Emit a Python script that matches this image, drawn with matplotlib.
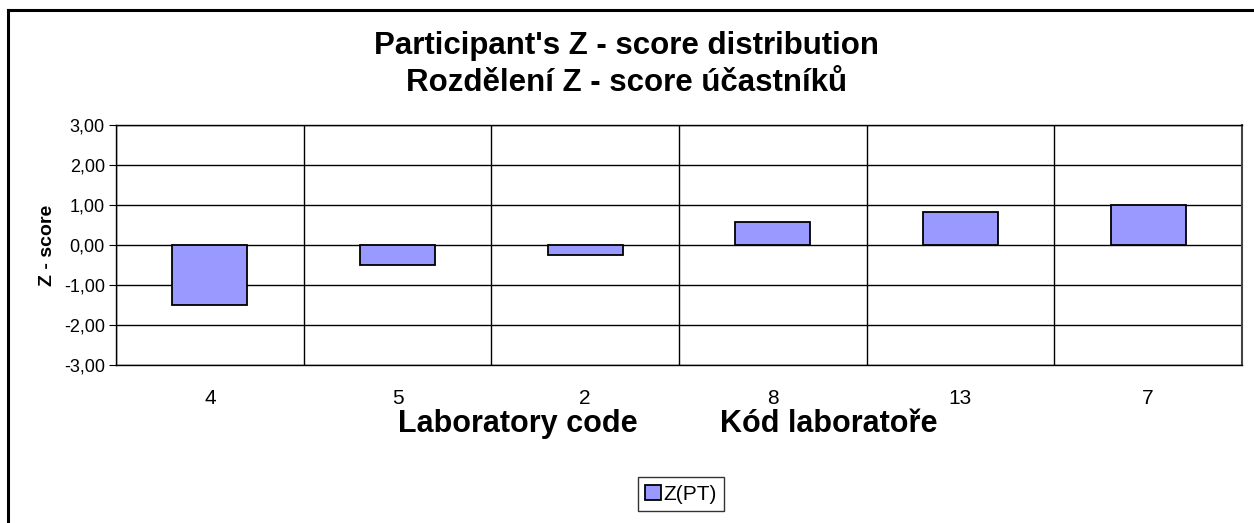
import numpy as np
import matplotlib.pyplot as plt
from matplotlib.lines import Line2D

labs = ["4", "5", "2", "8", "13", "7"]
zscores = [-1.50, -0.50, -0.25, 0.58, 0.82, 1.00]
yticks = [-3, -2, -1, 0, 1, 2, 3]
ytick_labels = ["-3,00", "-2,00", "-1,00", "0,00", "1,00", "2,00", "3,00"]

plt.rcParams['font.family'] = ['Liberation Sans', 'DejaVu Sans']

W, H = 1254, 523
fig = plt.figure(figsize=(W / 100, H / 100), dpi=100)

# outer chart frame (only top and left edges visible)
fig.add_artist(Line2D([8 / W, 8 / W], [0, 1 - 10 / H], color='black', lw=2.2, transform=fig.transFigure))
fig.add_artist(Line2D([8 / W, 1], [1 - 10 / H, 1 - 10 / H], color='black', lw=2.2, transform=fig.transFigure))

left, right, top, bottom = 116, 1242, 125, 365
ax = fig.add_axes([left / W, 1 - bottom / H, (right - left) / W, (bottom - top) / H])

x = np.arange(len(labs))
ax.bar(x, zscores, width=0.4, color='#9999ff', edgecolor='black', linewidth=1.3,
       zorder=3, label='Z(PT)')

ax.set_xlim(-0.5, len(labs) - 0.5)
ax.set_ylim(-3, 3)
ax.set_yticks(yticks)
ax.set_yticklabels(ytick_labels, fontsize=13)
ax.set_xticks(x)
ax.set_xticklabels(labs, fontsize=15)
ax.tick_params(axis='x', length=0, pad=17)
ax.tick_params(axis='y', length=5, direction='out', pad=3)

for yv in yticks:
    ax.axhline(yv, color='black', lw=1, zorder=1)
for xv in np.arange(-0.5, len(labs), 1.0):
    ax.axvline(xv, color='black', lw=1, zorder=1)
for s in ax.spines.values():
    s.set_linewidth(1)
ax.spines['right'].set_color('#444444')
ax.spines['right'].set_linewidth(1.5)

ax.set_ylabel('Z - score', fontsize=14, fontweight='bold', labelpad=6)

fig.text(0.5, 1 - 46 / H, "Participant's Z - score distribution", ha='center', va='center',
         fontsize=22.5, fontweight='bold')
fig.text(0.5, 1 - 83 / H, "Rozdělení Z - score účastníků", ha='center', va='center',
         fontsize=22.5, fontweight='bold')
fig.text(518 / W, 1 - 424 / H, "Laboratory code", ha='center', va='center',
         fontsize=22, fontweight='bold')
fig.text(829 / W, 1 - 424 / H, "Kód laboratoře", ha='center', va='center',
         fontsize=22, fontweight='bold')

leg = ax.legend(loc='center', bbox_to_anchor=(681 / W, 1 - 494 / H),
                bbox_transform=fig.transFigure, fontsize=15, frameon=True, fancybox=False,
                handlelength=0.75, handleheight=0.75, handletextpad=0.15, borderpad=0.35,
                borderaxespad=0)
leg.get_frame().set_edgecolor('black')
leg.get_frame().set_linewidth(1)

fig.savefig('out.png', dpi=100)
